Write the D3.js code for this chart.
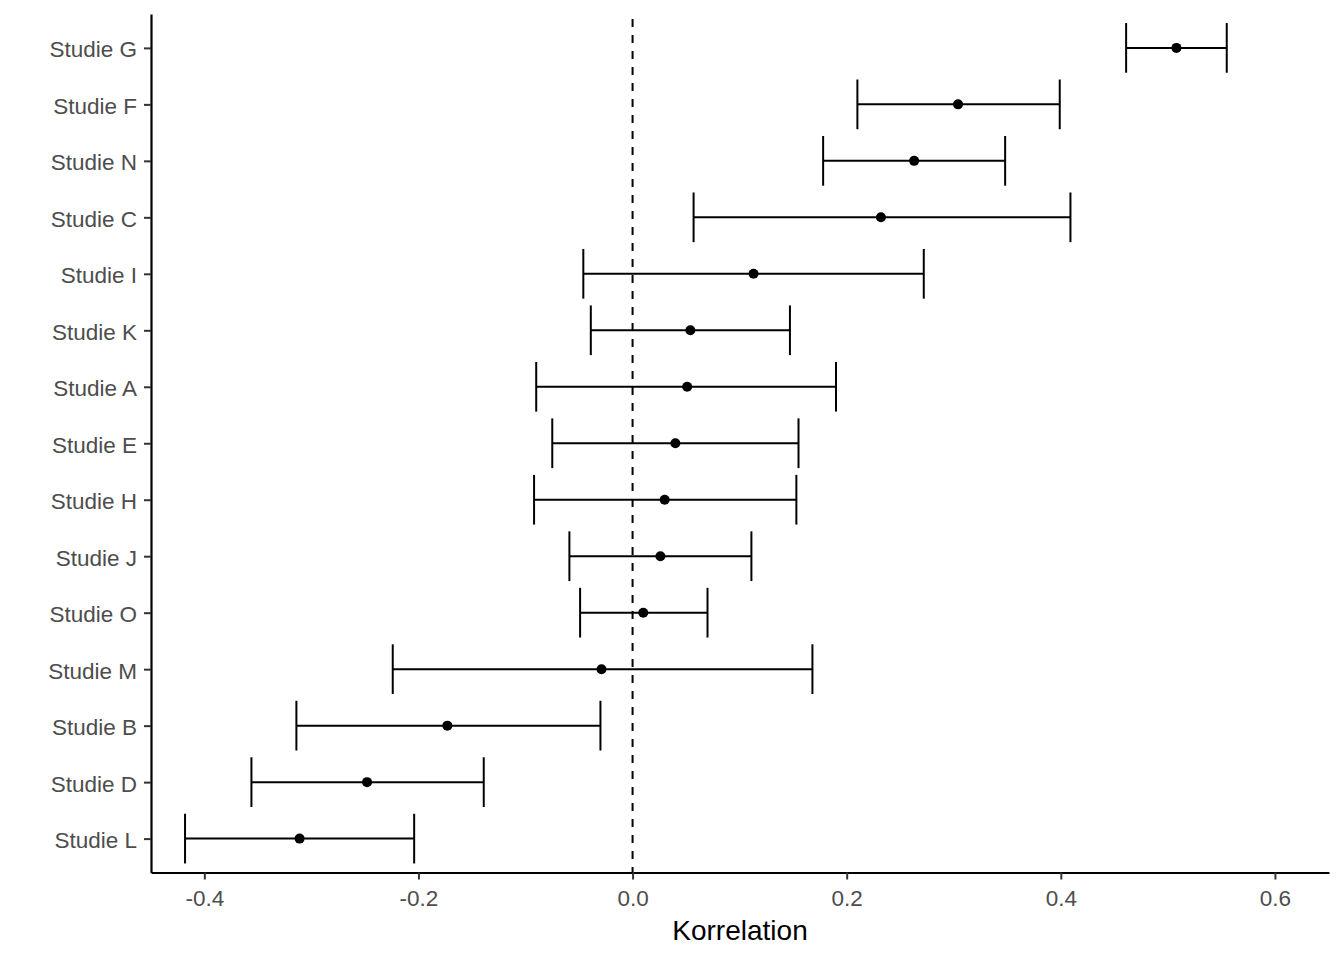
<!DOCTYPE html>
<html>
<head>
<meta charset="utf-8">
<script src="https://cdn.jsdelivr.net/npm/d3@7"></script>
<style>
  html, body { margin: 0; padding: 0; background: #fff; }
  svg { display: block; font-family: "Liberation Sans", Arial, sans-serif; }
</style>
</head>
<body>
<svg id="forest-svg" width="1344" height="960"></svg>
<script>
'use strict';

/* -- Data ---------------------------------------------------------------- */
const studies = ["Studie G", "Studie F", "Studie N", "Studie C", "Studie I",
                 "Studie K", "Studie A", "Studie E", "Studie H", "Studie J",
                 "Studie O", "Studie M", "Studie B", "Studie D", "Studie L"];
const estimates = [0.508, 0.304, 0.263, 0.232, 0.113, 0.054, 0.051, 0.040,
                   0.030, 0.026, 0.010, -0.029, -0.173, -0.248, -0.311];
const lower = [0.461, 0.210, 0.178, 0.057, -0.046, -0.039, -0.090, -0.075,
               -0.092, -0.059, -0.049, -0.224, -0.314, -0.356, -0.418];
const upper = [0.555, 0.399, 0.348, 0.409, 0.272, 0.147, 0.190, 0.155,
               0.153, 0.111, 0.070, 0.168, -0.030, -0.139, -0.204];
const xTicks = [-0.4, -0.2, 0.0, 0.2, 0.4, 0.6];
const xDomain = [-0.4498, 0.6505];
const xLabel = "Korrelation";

const rows = studies.map(function(s, i) {
    return { key: s, est: estimates[i], lo: lower[i], hi: upper[i] };
});

/* -- Layout ---------------------------------------------------------------- */
const margin = { top: 14, right: 15, bottom: 87.5, left: 151 };
const svgW = 1344, svgH = 960;
const plotW = svgW - margin.left - margin.right;
const plotH = svgH - margin.top - margin.bottom;

const svg = d3.select("#forest-svg");

const xScale = d3.scaleLinear()
    .domain(xDomain)
    .range([margin.left, margin.left + plotW]);

const yScale = d3.scalePoint()
    .domain(studies)
    .range([margin.top, margin.top + plotH])
    .padding(0.6);

const capH = yScale.step() * 0.88;

/* -- Reference line at zero ------------------------------------------------ */
svg.append("line")
    .attr("x1", xScale(0)).attr("x2", xScale(0))
    .attr("y1", margin.top).attr("y2", margin.top + plotH)
    .attr("stroke", "#000")
    .attr("stroke-width", 2)
    .attr("stroke-dasharray", "8,8")
    .attr("stroke-dashoffset", -5);

/* -- Error bars ------------------------------------------------------------ */
const bars = svg.append("g").attr("class", "errorbars")
    .selectAll("g")
    .data(rows)
    .enter()
    .append("g");

bars.append("line")
    .attr("x1", function(d) { return xScale(d.lo); })
    .attr("x2", function(d) { return xScale(d.hi); })
    .attr("y1", function(d) { return yScale(d.key); })
    .attr("y2", function(d) { return yScale(d.key); });

bars.append("line")
    .attr("x1", function(d) { return xScale(d.lo); })
    .attr("x2", function(d) { return xScale(d.lo); })
    .attr("y1", function(d) { return yScale(d.key) - capH / 2; })
    .attr("y2", function(d) { return yScale(d.key) + capH / 2; });

bars.append("line")
    .attr("x1", function(d) { return xScale(d.hi); })
    .attr("x2", function(d) { return xScale(d.hi); })
    .attr("y1", function(d) { return yScale(d.key) - capH / 2; })
    .attr("y2", function(d) { return yScale(d.key) + capH / 2; });

bars.selectAll("line")
    .attr("stroke", "#000")
    .attr("stroke-width", 2);

/* -- Point estimates ------------------------------------------------------- */
svg.append("g").attr("class", "points")
    .selectAll("circle")
    .data(rows)
    .enter()
    .append("circle")
    .attr("cx", function(d) { return xScale(d.est); })
    .attr("cy", function(d) { return yScale(d.key); })
    .attr("r", 5)
    .attr("fill", "#000");

/* -- Axes ------------------------------------------------------------------ */
const xAxis = d3.axisBottom(xScale)
    .tickValues(xTicks)
    .tickFormat(function(d) { return d.toFixed(1); })
    .tickSizeInner(7)
    .tickSizeOuter(0)
    .tickPadding(11);

const xAxisElement = svg.append("g")
    .attr("class", "x axis")
    .attr("transform", "translate(0," + (margin.top + plotH) + ")")
    .call(xAxis);

const yAxis = d3.axisLeft(yScale)
    .tickSizeInner(7)
    .tickSizeOuter(0)
    .tickPadding(7);

const yAxisElement = svg.append("g")
    .attr("class", "y axis")
    .attr("transform", "translate(" + margin.left + ",0)")
    .call(yAxis);

[xAxisElement, yAxisElement].forEach(function(ax) {
    ax.select(".domain").attr("stroke", "#000").attr("stroke-width", 2.2);
    ax.selectAll(".tick line").attr("stroke", "#333333").attr("stroke-width", 2);
    ax.selectAll(".tick text")
        .attr("fill", "#4D4D4D")
        .style("font-size", "22.5px")
        .style("font-family", "'Liberation Sans', Arial, sans-serif");
});
yAxisElement.selectAll(".tick text").attr("dy", "0.4em");

/* -- X-axis title ---------------------------------------------------------- */
svg.append("text")
    .attr("x", margin.left + plotW / 2)
    .attr("y", 940)
    .attr("text-anchor", "middle")
    .attr("fill", "#000")
    .style("font-size", "28px")
    .text(xLabel);
</script>
</body>
</html>
